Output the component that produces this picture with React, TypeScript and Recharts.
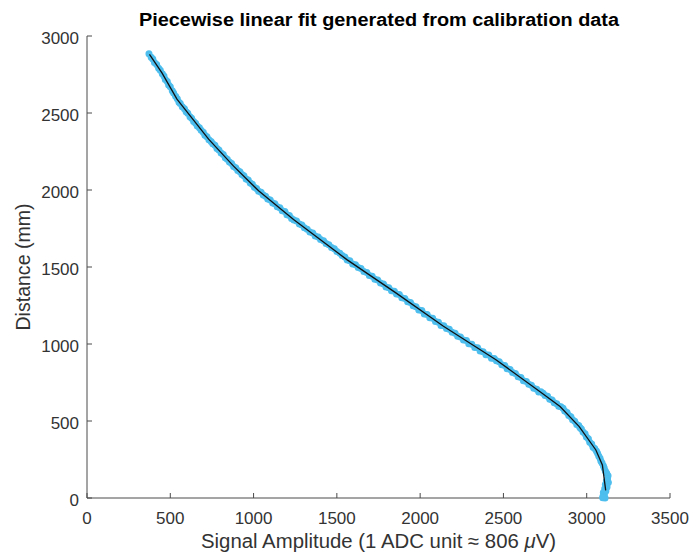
import React from 'react';
import { ScatterChart, Scatter, XAxis, YAxis, Label } from 'recharts';

// x: signal amplitude (ADC units), y: distance (mm)
const fitX = [375, 450, 540, 730, 880, 1030, 1240, 1560, 1850, 2140, 2455, 2720, 2840, 2955, 3055, 3094, 3114];
const fitY = [2880, 2760, 2590, 2330, 2155, 1995, 1808, 1548, 1335, 1115, 898, 690, 594, 464, 312, 215, 50];

const sampleX = [
  372, 385, 395, 405, 418, 430, 440, 452,
  462, 470, 482, 490, 500, 512, 520, 532, 542,
  552, 560, 572, 585, 595, 605, 618, 628, 640, 652, 662, 675, 685, 698, 708, 720, 732,
  745, 755, 768, 780, 792, 805, 818, 830, 842, 855, 868, 880,
  893, 905, 918, 930, 942, 955, 968, 980, 993, 1005, 1018, 1030,
  1045, 1058, 1072, 1085, 1100, 1115, 1128, 1142, 1158, 1172, 1188, 1200, 1215, 1228, 1242,
  1258, 1275, 1290, 1305, 1322, 1338, 1355, 1370, 1388, 1402, 1420, 1435, 1452, 1468, 1485, 1500, 1518, 1532, 1548, 1562,
  1578, 1595, 1612, 1628, 1645, 1662, 1680, 1695, 1712, 1728, 1745, 1762, 1780, 1795, 1812, 1828, 1845, 1858,
  1875, 1890, 1908, 1925, 1942, 1958, 1975, 1992, 2010, 2025, 2042, 2058, 2075, 2092, 2110, 2125, 2142,
  2158, 2175, 2192, 2210, 2225, 2242, 2260, 2278, 2292, 2310, 2328, 2345, 2360, 2378, 2395, 2412, 2428, 2445, 2458,
  2475, 2490, 2508, 2522, 2540, 2555, 2572, 2588, 2605, 2620, 2638, 2652, 2668, 2682, 2700, 2712, 2725,
  2738, 2750, 2765, 2778, 2792, 2805, 2820, 2832, 2845,
  2858, 2868, 2882, 2892, 2905, 2915, 2928, 2940, 2952, 2960,
  2968, 2978, 2990, 2998, 3010, 3018, 3030, 3038, 3048, 3058,
  3065, 3072, 3080, 3085, 3092, 3100,
  3105, 3112, 3120, 3128, 3125, 3118, 3130, 3112, 3122, 3108, 3115, 3100, 3106, 3098, 3104, 3110, 3096,
];
const sampleY = [
  2885, 2862, 2850, 2828, 2815, 2790, 2778, 2755,
  2740, 2718, 2705, 2682, 2670, 2645, 2630, 2608, 2592,
  2570, 2562, 2540, 2528, 2508, 2498, 2475, 2466, 2445, 2434, 2415, 2405, 2388, 2375, 2355, 2345, 2326,
  2315, 2300, 2290, 2270, 2260, 2240, 2230, 2210, 2200, 2182, 2172, 2152,
  2145, 2126, 2118, 2100, 2092, 2072, 2065, 2045, 2038, 2018, 2010, 1992,
  1985, 1968, 1960, 1942, 1935, 1916, 1910, 1892, 1885, 1865, 1860, 1840, 1835, 1815, 1806,
  1798, 1780, 1772, 1755, 1745, 1728, 1720, 1702, 1695, 1678, 1670, 1652, 1644, 1626, 1618, 1600, 1590, 1574, 1565, 1545,
  1540, 1520, 1515, 1496, 1490, 1470, 1465, 1445, 1440, 1420, 1415, 1396, 1390, 1370, 1366, 1346, 1342, 1325,
  1322, 1300, 1296, 1275, 1270, 1248, 1242, 1220, 1218, 1195, 1192, 1170, 1168, 1146, 1142, 1120, 1118,
  1100, 1095, 1076, 1070, 1050, 1046, 1026, 1022, 1002, 998, 978, 975, 954, 950, 930, 928, 908, 906, 892,
  885, 866, 860, 840, 834, 815, 808, 788, 782, 762, 756, 738, 732, 712, 706, 688, 690,
  680, 666, 660, 642, 636, 618, 612, 596, 592,
  582, 565, 556, 536, 528, 508, 498, 478, 470, 456,
  448, 428, 418, 396, 385, 362, 350, 330, 322, 305,
  290, 272, 258, 240, 228, 210,
  195, 175, 160, 145, 125, 110, 100, 88, 72, 60, 45, 35, 22, 12, 5, 0, 2,
];

const xTicks = [0, 500, 1000, 1500, 2000, 2500, 3000, 3500];
const yTicks = [0, 500, 1000, 1500, 2000, 2500, 3000];

const FONT = '"Liberation Sans", Arial, Helvetica, sans-serif';
const AXIS = '#4a4a4a';
const TEXT = '#333333';

const samples = sampleX.map((x, i) => ({ x, y: sampleY[i] }));
const fit = fitX.map((x, i) => ({ x, y: fitY[i] }));

const XTick = (props: any) => {
  const { x, y, payload } = props;
  return (
    <g>
      <line x1={x} y1={y} x2={x} y2={y - 5} stroke={AXIS} />
      <text x={x} y={y + 25.5} textAnchor="middle" fontSize={17} fontFamily={FONT} fill={TEXT}>
        {payload.value}
      </text>
    </g>
  );
};

const YTick = (props: any) => {
  const { x, y, payload } = props;
  return (
    <g>
      <line x1={x} y1={y} x2={x + 5} y2={y} stroke={AXIS} />
      <text x={x - 8} y={y + 7.5} textAnchor="end" fontSize={17} fontFamily={FONT} fill={TEXT}>
        {payload.value}
      </text>
    </g>
  );
};

const XLabel = (props: any) => {
  const { x, width } = props.viewBox;
  return (
    <text x={x + width / 2} y={548} textAnchor="middle" fontSize={20} fontFamily={FONT} fill={TEXT}
      textLength={355} lengthAdjust="spacingAndGlyphs">
      Signal Amplitude (1 ADC unit ≈ 806 <tspan fontStyle="italic">μ</tspan>V)
    </text>
  );
};

const YLabel = (props: any) => {
  const { y, height } = props.viewBox;
  const cy = y + height / 2;
  return (
    <text x={30} y={cy} transform={`rotate(-90 30 ${cy})`} textAnchor="middle" fontSize={20}
      fontFamily={FONT} fill={TEXT} textLength={127} lengthAdjust="spacingAndGlyphs">
      Distance (mm)
    </text>
  );
};

const Dot = (props: any) => <circle cx={props.cx} cy={props.cy} r={3.5} fill="#4DBEEE" />;

export default function App() {
  return (
    <div style={{ position: 'absolute', left: 0, top: 0, width: 689, height: 557, background: '#fff' }}>
      <svg width={689} height={36} style={{ position: 'absolute', left: 0, top: 0 }}>
        <text x={379} y={25.7} textAnchor="middle" fontSize={17.5} fontWeight="bold" fontFamily={FONT}
          fill="#000" textLength={480} lengthAdjust="spacingAndGlyphs">
          Piecewise linear fit generated from calibration data
        </text>
      </svg>
      <ScatterChart width={689} height={557} margin={{ top: 36, right: 19, bottom: 0, left: 0 }}>
        <XAxis type="number" dataKey="x" domain={[0, 3500]} ticks={xTicks} interval={0}
          height={59} tickSize={0} tickMargin={0} tickLine={false}
          axisLine={{ stroke: AXIS }} tick={<XTick />}>
          <Label content={XLabel} />
        </XAxis>
        <YAxis type="number" dataKey="y" domain={[0, 3000]} ticks={yTicks} interval={0}
          width={87} tickSize={0} tickMargin={0} tickLine={false}
          axisLine={{ stroke: AXIS }} tick={<YTick />}>
          <Label content={YLabel} />
        </YAxis>
        <Scatter data={samples} shape={<Dot />} isAnimationActive={false} />
        <Scatter data={fit} line={{ stroke: '#111', strokeWidth: 1.3 }} shape={() => <g />}
          isAnimationActive={false} />
      </ScatterChart>
    </div>
  );
}
